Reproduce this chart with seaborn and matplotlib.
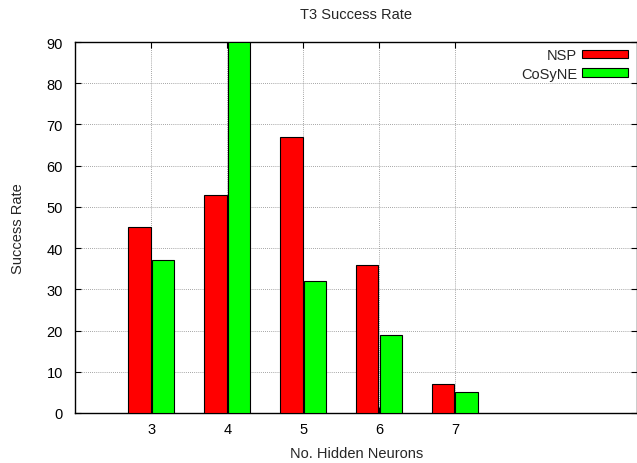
import matplotlib
matplotlib.use("Agg")
import matplotlib.pyplot as plt
import seaborn as sns
import pandas as pd
from matplotlib.patches import Patch

neurons = ["3", "4", "5", "6", "7"]
nsp = [45, 53, 67, 36, 7]
cosyne = [37, 90, 32, 19, 5]
series = ["NSP", "CoSyNE"]
colors = ["#ff0000", "#00ff00"]

df = pd.DataFrame({
    "neurons": neurons * 2,
    "rate": nsp + cosyne,
    "method": [series[0]] * len(neurons) + [series[1]] * len(neurons),
})

sns.set_theme(style="white")
plt.rcParams["font.family"] = ["Liberation Sans", "DejaVu Sans"]
FS = 10.5

fig = plt.figure(figsize=(6.37, 4.64), dpi=100)
ax = fig.add_axes([0.1185, 0.1078, 0.8815, 0.7995])

sns.barplot(data=df, x="neurons", y="rate", hue="method", palette=colors,
            width=0.62, gap=0.05, edgecolor="black", linewidth=0.8,
            saturation=1, ax=ax, legend=False, zorder=3)

ax.set_xlim(-1, 6.4)
ax.set_ylim(0, 90)
ax.set_yticks(range(0, 91, 10))
ax.grid(True, linestyle=(0, (1, 1.5)), color="#888888", linewidth=0.6, zorder=0)
ax.set_axisbelow(True)
for s in ax.spines.values():
    s.set_color("black")
    s.set_linewidth(1.0)
ax.tick_params(direction="in", length=4, width=0.8, colors="black",
               labelsize=FS, top=True, right=True, bottom=True, left=True,
               labeltop=False, labelright=False)
ax.tick_params(axis="y", pad=9)
ax.tick_params(axis="x", pad=6.5)
ax.set_title("T3 Success Rate", fontsize=FS, pad=17)
ax.set_xlabel("No. Hidden Neurons", fontsize=FS, va="center")
ax.set_ylabel("Success Rate", fontsize=FS, va="center")
ax.xaxis.set_label_coords(0.5, -(454 - 414) / 371)
ax.yaxis.set_label_coords((18 - 75.5) / 561.5, 0.5)

handles = [Patch(facecolor=c, edgecolor="black", linewidth=0.8) for c in colors]
leg = ax.legend(handles, series, loc="upper right", frameon=False,
                fontsize=FS, markerfirst=False, handlelength=3.15,
                handleheight=0.5, handletextpad=0.35, borderaxespad=0,
                borderpad=0, labelspacing=0.3,
                bbox_to_anchor=(0.984, 0.983))
for t in leg.get_texts():
    t.set_ha("right")

fig.savefig("out.png", dpi=100)
